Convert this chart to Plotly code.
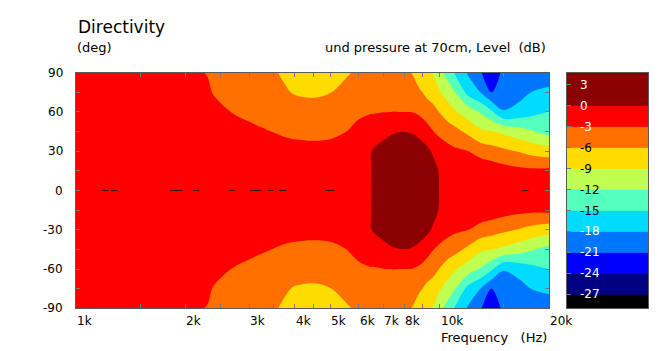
import numpy as np
import plotly.graph_objects as go

# ---------------- data ----------------
freq_hz = [1000, 1500, 2000, 2200, 2300, 2400, 2700, 3000, 3500, 3700, 4000, 4500,
           5000, 5500, 5800, 6000, 6480, 6520, 7000, 7500, 8000, 8400, 8800, 9200,
           9600, 10000, 10500, 11000, 12000, 13000, 13900, 15000, 16500, 18000, 20000]
angles_half = [0, 15, 30, 45, 60, 75, 90]
# level (dB) per frequency at angles 0,15,30,45,60,75,90 deg (symmetric pattern)
level_db = [
    [-0.5, -0.6, -0.8, -1.0, -1.3, -1.6, -2.0],
    [-0.5, -0.6, -0.9, -1.2, -1.6, -2.0, -2.4],
    [-0.5, -0.7, -1.0, -1.5, -2.0, -2.5, -2.8],
    [-0.5, -0.7, -1.1, -1.6, -2.2, -2.7, -2.95],
    [-0.5, -0.7, -1.2, -1.8, -2.4, -2.8, -3.05],
    [-0.5, -0.8, -1.3, -2.0, -2.6, -3.1, -3.6],
    [-0.5, -0.8, -1.5, -2.3, -3.05, -3.8, -4.3],
    [-0.5, -0.9, -1.7, -2.6, -3.4, -4.3, -4.8],
    [-0.5, -1.0, -1.9, -3.05, -4.2, -5.2, -5.8],
    [-0.5, -1.0, -2.0, -3.3, -4.6, -5.7, -6.2],
    [-0.5, -1.1, -2.2, -3.5, -5.0, -6.15, -6.6],
    [-0.5, -1.1, -2.3, -3.6, -5.2, -6.3, -6.8],
    [-0.4, -1.0, -2.2, -3.5, -5.0, -6.05, -6.5],
    [-0.4, -0.9, -1.9, -3.05, -4.3, -5.5, -6.25],
    [-0.4, -0.8, -1.7, -2.7, -3.5, -4.9, -5.9],
    [-0.35, -0.7, -1.5, -2.5, -3.3, -4.5, -5.4],
    [-0.1, -0.3, -1.1, -2.15, -3.1, -4.15, -5.0],
    [1.0, 0.8, 0.05, -2.2, -3.1, -4.15, -5.0],
    [1.5, 1.3, 0.6, -0.5, -3.05, -4.0, -4.8],
    [1.7, 1.5, 0.9, -0.1, -2.98, -4.0, -5.0],
    [1.7, 1.5, 1.0, -0.02, -3.02, -4.2, -5.4],
    [1.6, 1.4, 0.9, -0.1, -3.05, -4.5, -6.1],
    [1.5, 1.3, 0.7, -0.4, -3.6, -5.6, -7.5],
    [1.3, 1.1, 0.6, -1.4, -4.8, -6.5, -8.6],
    [1.0, 0.8, -0.3, -2.9, -5.2, -7.2, -9.2],
    [-0.1, -0.2, -1.5, -3.6, -6.1, -8.7, -11.3],
    [-0.5, -0.8, -2.0, -4.4, -7.4, -10.2, -13.0],
    [-0.7, -1.0, -2.5, -5.0, -8.6, -11.8, -15.2],
    [-0.9, -1.4, -3.0, -6.7, -10.5, -16.0, -18.4],
    [-0.5, -0.9, -4.2, -8.5, -12.3, -18.1, -20.9],
    [-0.5, -1.2, -4.8, -8.8, -14.5, -21.0, -22.5],
    [-0.6, -1.8, -5.4, -9.6, -17.8, -19.8, -20.5],
    [-0.7, -2.2, -6.15, -10.6, -17.0, -19.0, -20.0],
    [-1.0, -2.4, -7.0, -11.8, -15.8, -17.9, -19.5],
    [-1.3, -2.3, -7.7, -13.1, -14.95, -17.6, -19.0],
]
# short dark dashes seen on the 0 deg line (start / end, Hz)
dash_start_hz = [1179, 1246, 1814, 2102, 2640, 3011, 3375, 3601, 4851, 16890]
dash_end_hz = [1230, 1299, 1966, 2184, 2733, 3234, 3488, 3798, 5148, 17550]

x_tick_hz = [1000, 1500, 2000, 2500, 3000, 3500, 4000, 4500, 5000, 6000, 7000, 8000,
             9000, 10000, 15000, 20000]
x_label_hz = [1000, 2000, 3000, 4000, 5000, 6000, 7000, 8000, 10000, 20000]
x_label_text = ["1k", "2k", "3k", "4k", "5k", "6k", "7k", "8k", "10k", "20k"]
y_minor_ticks = [-90, -75, -60, -45, -30, -15, 0, 15, 30, 45, 60, 75, 90]
y_label_vals = [90, 60, 30, 0, -30, -60, -90]

cb_levels = [-27, -24, -21, -18, -15, -12, -9, -6, -3, 0, 3]
cb_label_colors = ["white", "white", "white", "white", "black", "black", "black",
                   "black", "white", "white", "white"]
band_edges = [-30, -27, -24, -21, -18, -15, -12, -9, -6, -3, 0, 6]
band_mid = [-28.5, -25.5, -22.5, -19.5, -16.5, -13.5, -10.5, -7.5, -4.5, -1.5, 1.5]
band_colors = ["#000000", "#000080", "#0000FF", "#0076FF", "#00DCFF", "#55FFBE",
               "#BEFF50", "#FFDC00", "#FF7000", "#FF0000", "#8B0000", "#8B0000"]

# ---------------- build ----------------
angles = [-a for a in angles_half[::-1]] + angles_half[1:]
z = []
for a in angles:
    k = angles_half.index(abs(a))
    z.append([col[k] for col in level_db])

n = len(band_colors) - 1
cscale = [[i / n, c] for i, c in enumerate(band_colors)]

W, H = 666, 351
FONT = "DejaVu Sans"
px = lambda x: x / W
py = lambda y: (H - y) / H

fig = go.Figure()
fig.add_trace(go.Contour(
    x=freq_hz, y=angles, z=z, colorscale=cscale,
    contours=dict(start=-27, end=3, size=3, coloring="fill", showlines=False),
    line=dict(width=0), showscale=False, hoverinfo="skip"))

dx, dy = [], []
for s, e in zip(dash_start_hz, dash_end_hz):
    dx += [s, e, None]
    dy += [0, 0, None]
fig.add_trace(go.Scatter(x=dx, y=dy, mode="lines", line=dict(color="#3a0000", width=1),
                         hoverinfo="skip", showlegend=False))

fig.add_trace(go.Heatmap(x=[0, 1], y=band_edges, z=[[m] for m in band_mid],
                         colorscale=cscale, zmin=-28.5, zmax=4.5, showscale=False,
                         xaxis="x2", yaxis="y2", hoverinfo="skip"))

y0, y1 = py(308.3), py(72.7)
frame = "#5a5a5a"
fig.update_layout(
    width=W, height=H, margin=dict(l=0, r=0, t=0, b=0),
    paper_bgcolor="white", plot_bgcolor="white", showlegend=False,
    font=dict(family=FONT, size=12, color="black"),
    xaxis=dict(type="log", range=[3, np.log10(20000)], domain=[px(76), px(549)],
               tickvals=x_tick_hz, ticks="inside", ticklen=4, tickcolor="#7a7a7a",
               showticklabels=False, showline=True, linecolor=frame, mirror="ticks",
               showgrid=False, zeroline=False, fixedrange=True),
    yaxis=dict(range=[-90, 90], domain=[y0, y1], tickvals=y_minor_ticks,
               ticks="inside", ticklen=4, tickcolor="#7a7a7a", showticklabels=False,
               showline=True, linecolor=frame, mirror="ticks", showgrid=False,
               zeroline=False, fixedrange=True),
    xaxis2=dict(range=[0, 1], domain=[px(567), px(648)], anchor="y2", showticklabels=False,
                ticks="", showline=True, linecolor=frame, mirror=True, showgrid=False,
                zeroline=False),
    yaxis2=dict(range=[-29.0, 4.73], domain=[y0, y1], anchor="x2", tickvals=cb_levels,
                ticks="inside", ticklen=4, tickcolor="#6a7a90", showticklabels=False,
                showline=True, linecolor=frame, mirror=True, showgrid=False,
                zeroline=False),
)

ann = []
ann.append(dict(text="Directivity", x=px(76), y=py(27), xref="paper", yref="paper",
                xanchor="left", yanchor="middle", showarrow=False,
                font=dict(size=17, family=FONT)))
ann.append(dict(text="(deg)", x=px(75), y=py(48), xref="paper", yref="paper",
                xanchor="left", yanchor="middle", showarrow=False,
                font=dict(size=13, family=FONT)))
ann.append(dict(text="und pressure at 70cm, Level\u00a0\u00a0(dB)", x=px(548), y=py(48),
                xref="paper", yref="paper", xanchor="right", yanchor="middle",
                showarrow=False, font=dict(size=13, family=FONT)))
ann.append(dict(text="Frequency\u00a0\u00a0\u00a0(Hz)", x=px(549), y=py(337), xref="paper",
                yref="paper", xanchor="right", yanchor="middle", showarrow=False,
                font=dict(size=13, family=FONT)))
for v, t in zip(x_label_hz, x_label_text):
    ann.append(dict(text=t, x=np.log10(v), y=py(321), xref="x", yref="paper",
                    xanchor="left", yanchor="middle", showarrow=False, xshift=-1,
                    font=dict(size=12, family=FONT)))
for v in y_label_vals:
    ann.append(dict(text=str(v), x=px(65), y=v, xref="paper", yref="y",
                    xanchor="right", yanchor="middle", showarrow=False,
                    font=dict(size=12, family=FONT)))
for v, c in zip(cb_levels, cb_label_colors):
    ann.append(dict(text=str(v), x=px(578), y=v, xref="paper", yref="y2",
                    xanchor="left", yanchor="middle", showarrow=False,
                    font=dict(size=12, family=FONT, color=c)))
fig.update_layout(annotations=ann)

fig.write_html("out.html")
